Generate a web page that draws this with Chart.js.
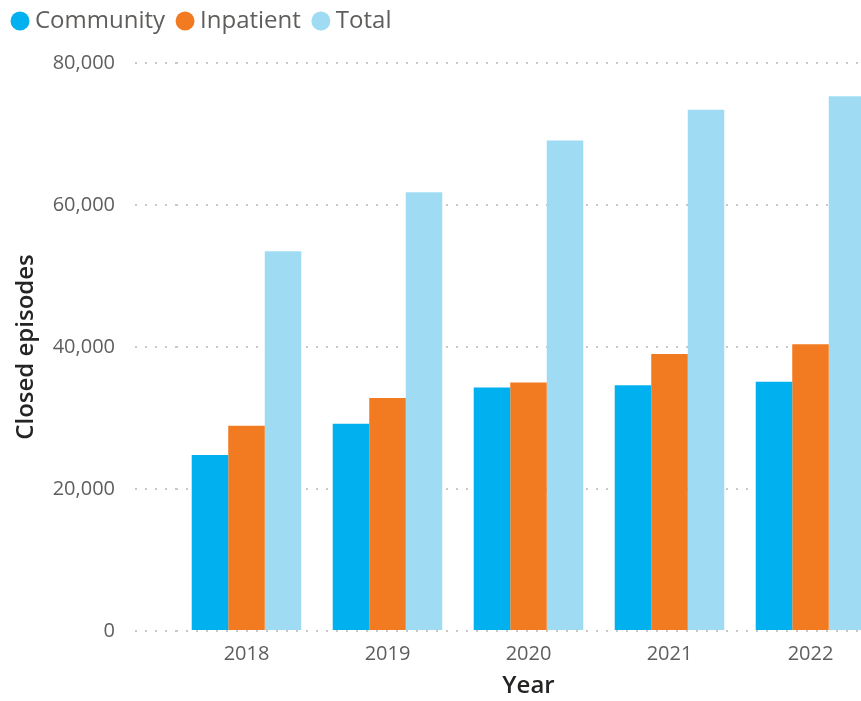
<!DOCTYPE html>
<html>
<head>
<meta charset="utf-8">
<title>Closed episodes by year</title>
<script src="https://cdn.jsdelivr.net/npm/chart.js@4/dist/chart.umd.min.js"></script>
<style>
    html, body { margin: 0; padding: 0; background: #fff; overflow: hidden; }
    #wrap { width: 900px; height: 701px; }
</style>
</head>
<body>
<div id="wrap"><canvas id="chart" width="900" height="701"></canvas></div>
<script>
// closed episodes per year
var years = ['2018', '2019', '2020', '2021', '2022'];
var community = [24800, 29200, 34300, 34600, 35100];
var inpatient = [28900, 32800, 35000, 39000, 40400];
var total = [53500, 61800, 69100, 73400, 75300];
var yTicks = [0, 20000, 40000, 60000, 80000];

var FONT = "'Open Sans', 'Noto Sans', sans-serif";
var grey = '#605E5C';
var dots = [2, 8];

function series(label, data, color) {
    return {
        label: label,
        data: data,
        backgroundColor: color,
        borderWidth: 0,
        barPercentage: 1,
        categoryPercentage: 0.777
    };
}

// extra room between the legend and the plot
var legendGap = {
    id: 'legendGap',
    beforeInit: function (chart) {
        var fit = chart.legend.fit;
        chart.legend.fit = function () {
            fit.call(this);
            this.height += 20;
        };
    }
};

var ctx = document.getElementById('chart').getContext('2d');
new Chart(ctx, {
    type: 'bar',
    data: {
        labels: years,
        datasets: [
            series('Community', community, '#01B0EF'),
            series('Inpatient', inpatient, '#F27B22'),
            series('Total', total, '#A0DBF4')
        ]
    },
    plugins: [legendGap],
    options: {
        responsive: false,
        animation: false,
        layout: { padding: { top: -8, right: 19, bottom: 0, left: 0 } },
        plugins: {
            tooltip: { enabled: false },
            legend: {
                position: 'top',
                align: 'start',
                labels: {
                    usePointStyle: true,
                    pointStyle: 'circle',
                    boxHeight: 13.4,
                    boxWidth: 6,
                    padding: 17,
                    color: grey,
                    font: { family: FONT, size: 24 }
                }
            }
        },
        scales: {
            x: {
                offset: true,
                grid: { display: false },
                border: { display: false },
                ticks: {
                    color: grey,
                    padding: 3,
                    font: { family: FONT, size: 20 }
                },
                title: {
                    display: true,
                    text: 'Year',
                    color: '#252423',
                    padding: { top: 4, bottom: 0 },
                    font: { family: FONT, size: 24, weight: '600' }
                },
                afterFit: function (scale) { scale.height = 70; }
            },
            y: {
                min: 0,
                max: 80000,
                afterBuildTicks: function (scale) {
                    scale.ticks = yTicks.map(function (v) { return { value: v }; });
                },
                grid: {
                    color: '#c8c8c8',
                    lineWidth: 2,
                    tickBorderDash: dots,
                    tickColor: '#c8c8c8',
                    tickWidth: 2,
                    tickLength: 41
                },
                border: { display: false, dash: dots },
                ticks: {
                    color: grey,
                    padding: 20,
                    font: { family: FONT, size: 20 },
                    callback: function (v) { return v.toLocaleString('en-US'); }
                },
                title: {
                    display: true,
                    text: 'Closed episodes',
                    color: '#252423',
                    padding: { top: 12, bottom: 0 },
                    font: { family: FONT, size: 24, weight: '600' }
                },
                afterFit: function (scale) { scale.width = 176; }
            }
        }
    }
});
</script>
</body>
</html>
